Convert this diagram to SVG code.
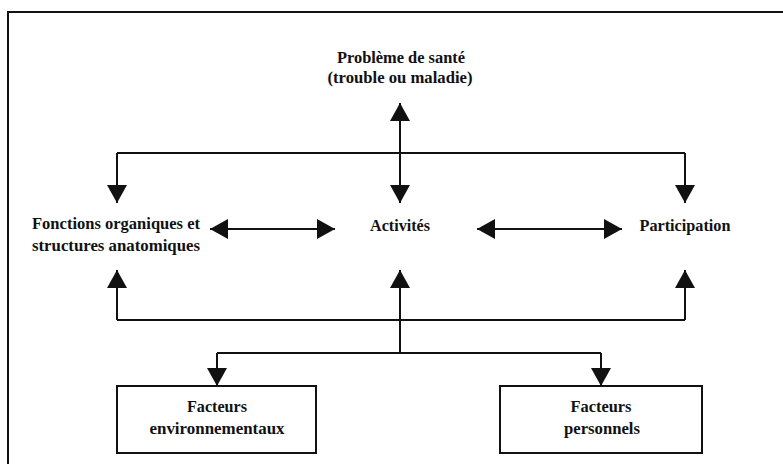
<svg xmlns="http://www.w3.org/2000/svg" width="783" height="464" viewBox="0 0 783 464">
<style>
text{font-family:"Liberation Serif","DejaVu Serif",serif;font-weight:bold;font-size:17px;fill:#111;text-anchor:middle}
.ln{stroke:#111;stroke-width:2;fill:none}
.box{stroke:#111;stroke-width:2;fill:#fff}
</style>
<defs>
<marker id="ah" viewBox="0 0 18 20" refX="18" refY="10" markerWidth="18" markerHeight="20" markerUnits="userSpaceOnUse" orient="auto-start-reverse">
<path d="M0,0 L18,10 L0,20 Z" fill="#111"/>
</marker>
</defs>
<rect width="783" height="464" fill="#fff"/>
<path d="M8,464 V12 H783" class="ln" stroke-width="2"/>
<g id="sante"><text x="401" y="63" textLength="128" lengthAdjust="spacingAndGlyphs">Problème de santé</text><text x="400" y="83" textLength="145" lengthAdjust="spacingAndGlyphs">(trouble ou maladie)</text></g>
<g id="fonctions"><text x="116" y="229" textLength="168" lengthAdjust="spacingAndGlyphs">Fonctions organiques et</text><text x="116" y="251" textLength="168" lengthAdjust="spacingAndGlyphs">structures anatomiques</text></g>
<g id="activites"><text x="400" y="231" textLength="60" lengthAdjust="spacingAndGlyphs">Activités</text></g>
<g id="participation"><text x="685" y="231" textLength="91" lengthAdjust="spacingAndGlyphs">Participation</text></g>
<g id="env"><rect class="box" x="117" y="386" width="199" height="67"/><text x="217" y="412" textLength="60" lengthAdjust="spacingAndGlyphs">Facteurs</text><text x="217" y="434" textLength="135" lengthAdjust="spacingAndGlyphs">environnementaux</text></g>
<g id="perso"><rect class="box" x="500" y="386" width="202" height="67"/><text x="601" y="412" textLength="61" lengthAdjust="spacingAndGlyphs">Facteurs</text><text x="602" y="434" textLength="76" lengthAdjust="spacingAndGlyphs">personnels</text></g>
<g id="connectors" class="ln">
<path d="M400,153 V103" marker-end="url(#ah)"/>
<path d="M117,153 H685"/>
<path d="M117,153 V203" marker-end="url(#ah)"/>
<path d="M400,153 V203" marker-end="url(#ah)"/>
<path d="M685,153 V203" marker-end="url(#ah)"/>
<path d="M210,229 H335" marker-start="url(#ah)" marker-end="url(#ah)"/>
<path d="M477,229 H622" marker-start="url(#ah)" marker-end="url(#ah)"/>
<path d="M117,320 H685"/>
<path d="M117,320 V270" marker-end="url(#ah)"/>
<path d="M400,320 V270" marker-end="url(#ah)"/>
<path d="M685,320 V270" marker-end="url(#ah)"/>
<path d="M400,320 V353"/>
<path d="M217,353 H601"/>
<path d="M217,353 V386" marker-end="url(#ah)"/>
<path d="M601,353 V386" marker-end="url(#ah)"/>
</g>
</svg>
